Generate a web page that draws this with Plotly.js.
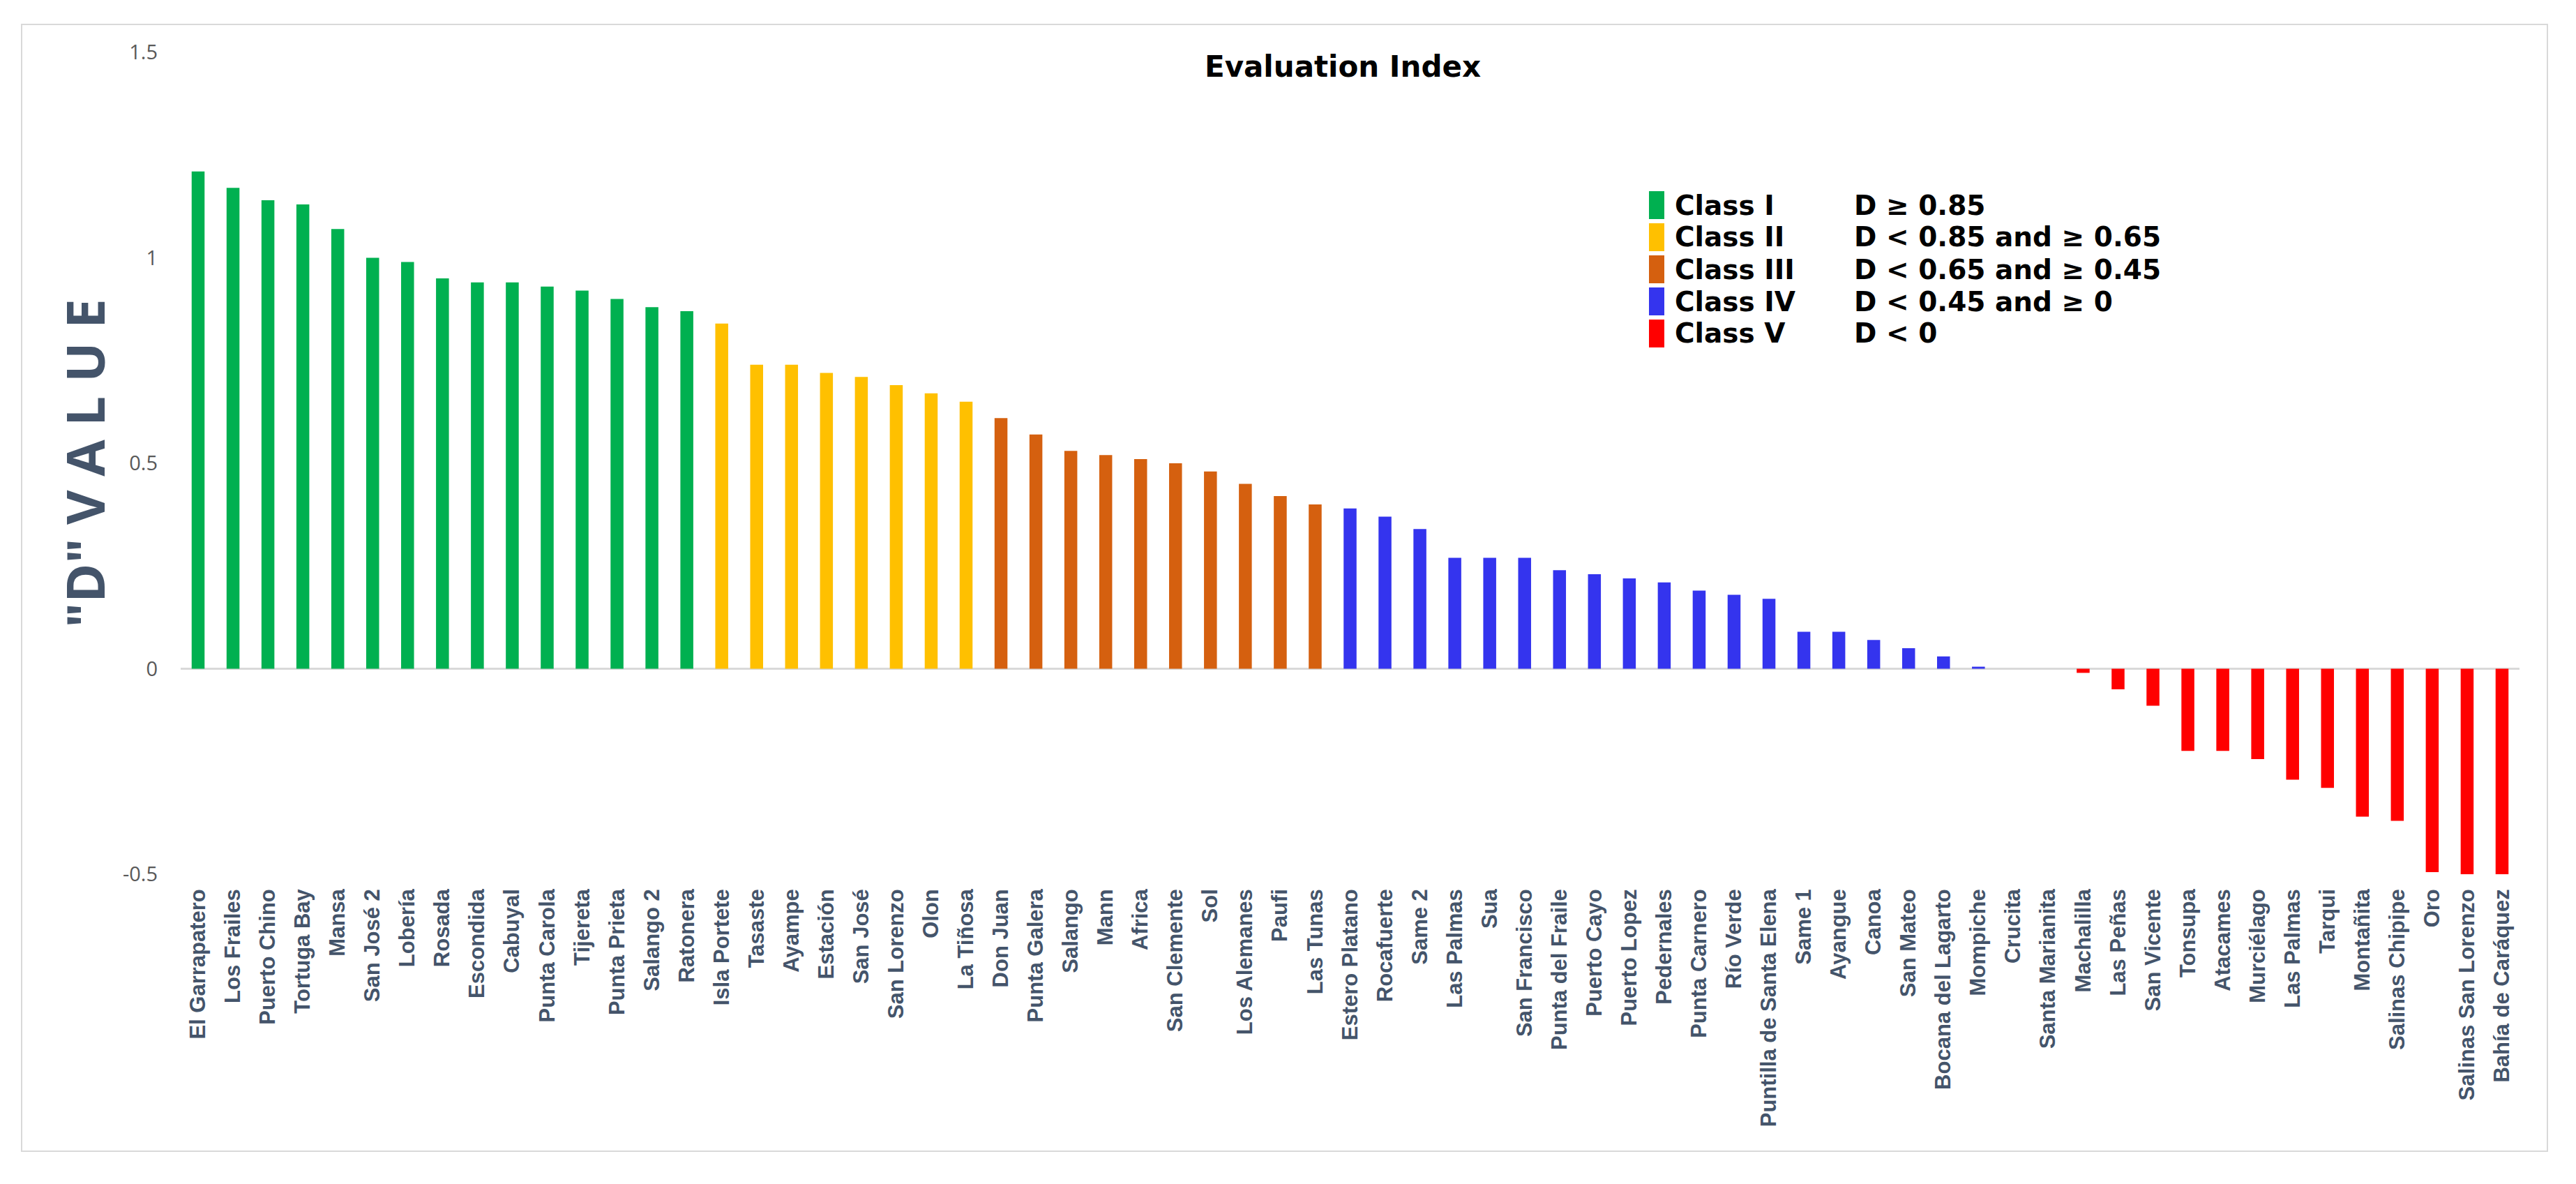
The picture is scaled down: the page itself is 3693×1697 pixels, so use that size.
<!DOCTYPE html>
<html><head><meta charset="utf-8">
<script src="https://cdn.plot.ly/plotly-3.0.1.min.js"></script>
<style>html,body{margin:0;padding:0;background:#fff;}#chart{width:3693px;height:1697px;}</style>
</head><body><div id="chart"></div>
<script>
const sites = ["El Garrapatero","Los Frailes","Puerto Chino","Tortuga Bay","Mansa","San José 2","Lobería","Rosada","Escondida","Cabuyal","Punta Carola","Tijereta","Punta Prieta","Salango 2","Ratonera","Isla Portete","Tasaste","Ayampe","Estación","San José","San Lorenzo","Olon","La Tiñosa","Don Juan","Punta Galera","Salango","Mann","Africa","San Clemente","Sol","Los Alemanes","Paufi","Las Tunas","Estero Platano","Rocafuerte","Same 2","Las Palmas","Sua","San Francisco","Punta del Fraile","Puerto Cayo","Puerto Lopez","Pedernales","Punta Carnero","Río Verde","Puntilla de Santa Elena","Same 1","Ayangue","Canoa","San Mateo","Bocana del Lagarto","Mompiche","Crucita","Santa Marianita","Machalilla","Las Peñas","San Vicente","Tonsupa","Atacames","Murciélago","Las Palmas","Tarqui","Montañita","Salinas Chipipe","Oro","Salinas San Lorenzo","Bahía de Caráquez"];
const dValues = [1.21,1.17,1.14,1.13,1.07,1.00,0.99,0.95,0.94,0.94,0.93,0.92,0.90,0.88,0.87,0.84,0.74,0.74,0.72,0.71,0.69,0.67,0.65,0.61,0.57,0.53,0.52,0.51,0.50,0.48,0.45,0.42,0.40,0.39,0.37,0.34,0.27,0.27,0.27,0.24,0.23,0.22,0.21,0.19,0.18,0.17,0.09,0.09,0.07,0.05,0.03,0.005,0,0,-0.01,-0.05,-0.09,-0.20,-0.20,-0.22,-0.27,-0.29,-0.36,-0.37,-0.495,-0.50,-0.50];
const siteClass = [1,1,1,1,1,1,1,1,1,1,1,1,1,1,1,2,2,2,2,2,2,2,2,3,3,3,3,3,3,3,3,3,3,4,4,4,4,4,4,4,4,4,4,4,4,4,4,4,4,4,4,4,4,4,5,5,5,5,5,5,5,5,5,5,5,5,5];
const classNames = ["Class I","Class II","Class III","Class IV","Class V"];
const classRanges = ["D ≥ 0.85","D < 0.85 and ≥ 0.65","D < 0.65 and ≥ 0.45","D < 0.45 and ≥ 0","D < 0"];
const classColors = ["#00B050","#FFC000","#D5600F","#3434EE","#FF0000"];
const yTickVals = [-0.5,0,0.5,1,1.5];
const yTickText = ["-0.5","0","0.5","1","1.5"];

const idx = sites.map((s,i)=>i);
const traces = classNames.map((name,c)=>{
  const xs=[], ys=[], tx=[];
  idx.forEach(i=>{ if(siteClass[i]===c+1){ xs.push(i); ys.push(dValues[i]); tx.push(sites[i]); } });
  return {type:'bar', name:name, x:xs, y:ys, text:tx, hoverinfo:'text+y', textposition:'none',
          width:0.37, marker:{color:classColors[c], line:{width:0}}, showlegend:false};
});

// Plot area in pixels: x 259..3612, y 75..1253
const L=259, R=3612, T=75, B=1253;
const px = v => (v-L)/(R-L);
const py = v => (B-v)/(B-T);

const shapes = [{type:'rect', xref:'paper', yref:'paper', x0:px(31), x1:px(3652), y0:py(1650), y1:py(35),
                 line:{color:'#d9d9d9', width:2}, fillcolor:'rgba(0,0,0,0)', layer:'below'}];
const annotations = [];
classNames.forEach((name,i)=>{
  const yc = 294 + 46*i;
  shapes.push({type:'rect', xref:'paper', yref:'paper', x0:px(2364), x1:px(2386), y0:py(yc+20), y1:py(yc-20),
               line:{width:0}, fillcolor:classColors[i]});
  annotations.push({xref:'paper', yref:'paper', x:px(2399), y:py(yc), xanchor:'left', yanchor:'middle', showarrow:false,
                    text:name, font:{family:'DejaVu Sans', size:39, weight:700, color:'#000'}});
  annotations.push({xref:'paper', yref:'paper', x:px(2656), y:py(yc), xanchor:'left', yanchor:'middle', showarrow:false,
                    text:classRanges[i], font:{family:'DejaVu Sans', size:39, weight:700, color:'#000'}});
});

const layout = {
  width:3693, height:1697,
  margin:{l:L, r:3693-R, t:T, b:1697-B, pad:0},
  paper_bgcolor:'#fff', plot_bgcolor:'#fff',
  barmode:'overlay',
  title:{text:'Evaluation Index', xref:'container', yref:'container', x:1925/3693, xanchor:'center', y:1-95/1697, yanchor:'middle',
         font:{family:'DejaVu Sans', size:42, weight:700, color:'#000'}},
  xaxis:{range:[-0.5, sites.length-0.5], tickmode:'array', tickvals:idx, ticktext:sites, tickangle:-90,
         showgrid:false, zeroline:false, showline:false, ticks:'', ticklabelstandoff:14,
         tickfont:{family:'Liberation Sans, Arial', size:31, weight:700, color:'#44546A'}, automargin:false},
  yaxis:{range:[-0.5,1.5], tickmode:'array', tickvals:yTickVals, ticktext:yTickText,
         showgrid:false, zeroline:true, zerolinecolor:'#d9d9d9', zerolinewidth:3, showline:false, ticks:'',
         ticklabelstandoff:32, automargin:false,
         tickfont:{family:'Open Sans', size:29, color:'#595959'},
         title:{text:'"D" V A L U E', standoff:0, font:{family:'Open Sans', size:76, weight:700, color:'#44546A'}}},
  shapes:shapes, annotations:annotations
};
Plotly.newPlot('chart', traces, layout, {staticPlot:true, displayModeBar:false});
</script></body></html>
